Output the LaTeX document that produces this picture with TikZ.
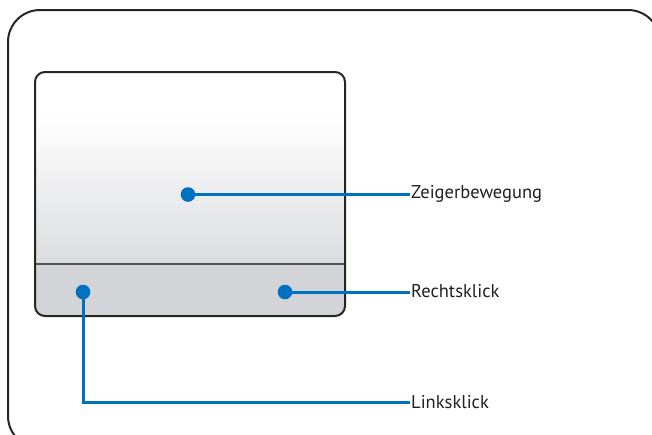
\documentclass[tikz,border=0pt]{standalone}
\usepackage{fontspec}
\setmainfont{PT Sans}
\usepackage{tikz}
\definecolor{callblue}{RGB}{0,112,192}
\definecolor{frame}{RGB}{38,38,38}
\definecolor{padlow}{RGB}{219,220,223}
\definecolor{btngray}{RGB}{211,212,215}
\definecolor{labeltext}{RGB}{35,31,32}

\begin{document}
\begin{tikzpicture}[x=1pt, y=-1pt,
	dot/.style={circle, fill=callblue, inner sep=0pt, minimum size=14.6pt},
	callout/.style={draw=callblue, line width=3pt},
	label/.style={anchor=west, inner sep=1.5pt, text=labeltext, font=\fontsize{18.5}{22}\selectfont}]
	\useasboundingbox (0,0) rectangle (652,434);
	\clip (0,0) rectangle (652,434);
	\draw[frame, line width=2pt, rounded corners=32pt] (8,10) rectangle (660,448);
	\fill[btngray, rounded corners=10pt] (35,72) rectangle (345,316);
	\begin{scope}
		\clip[rounded corners=10pt] (35,72) rectangle (345,316);
		\fill[white] (35,72) rectangle (345,116);
		\shade[top color=white, bottom color=padlow] (35,115) rectangle (345,264);
	\end{scope}
	\draw[frame!80, line width=1.4pt] (35,264) -- (345,264);
	\draw[frame, line width=2pt, rounded corners=10pt] (35,72) rectangle (345,316);
	\node[dot] (pointer) at (188,194.5) {};
	\node[dot] (rclick) at (285,292) {};
	\node[dot] (lclick) at (83,292) {};
	\node[label] (pointer text) at (409.5,194) {Zeigerbewegung};
	\node[label] (rclick text) at (409.5,291) {Rechtsklick};
	\node[label] (lclick text) at (409.5,402.5) {Linksklick};
	\draw[callout] (pointer.center) -- (pointer -| pointer text.west);
	\draw[callout] (rclick.center) -- (rclick -| rclick text.west);
	\draw[callout] (lclick.center) |- (lclick text.west);
\end{tikzpicture}
\end{document}
